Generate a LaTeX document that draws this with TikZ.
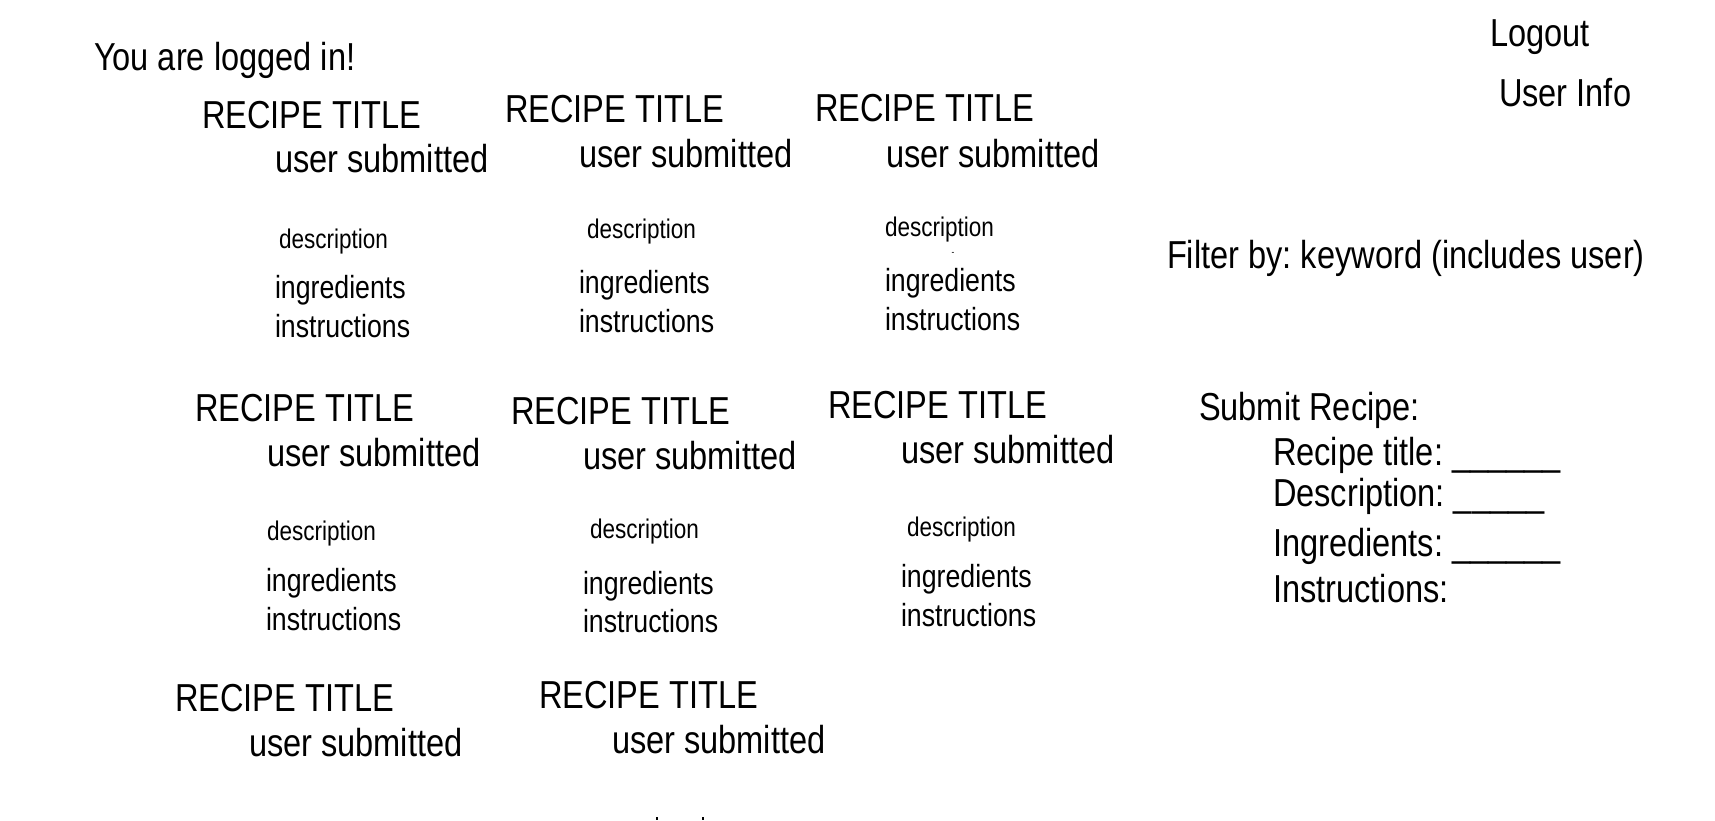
\documentclass[tikz,border=0pt]{standalone}
\usepackage{fontspec}
\setmainfont{Liberation Sans}[FakeStretch=0.835]
\frenchspacing
\begin{document}
\begin{tikzpicture}[x=1pt,y=-1pt,
  txt/.style={anchor=base west, inner sep=0pt, outer sep=0pt},
  big/.style={txt, font=\fontsize{39}{39}\selectfont\frenchspacing},
  mid/.style={txt, font=\fontsize{32}{32}\selectfont},
  small/.style={txt, font=\fontsize{27}{27}\selectfont},
  tiny/.style={anchor=base, inner sep=0pt, font=\fontsize{10}{10}\selectfont}]
\useasboundingbox[fill=white] (0,0) rectangle (1715,820);

\node[big] (logged) at (94,70.7) {You are logged in!};
\node[big] (logout) at (1490,46) {Logout};
\node[big] (userinfo) at (1499,106) {User Info};
\node[big] (filter) at (1167,268.3) {Filter by: keyword (includes user)};

% row 1
\node[big] (t11) at (202,128) {RECIPE TITLE};
\node[big] (u11) at (275,172.7) {user submitted};
\node[small] (d11) at (279,248) {description};
\node[mid] (g11) at (275,298) {ingredients};
\node[mid] (i11) at (275,337) {instructions};

\node[big] (t12) at (505,122.7) {RECIPE TITLE};
\node[big] (u12) at (579,167.7) {user submitted};
\node[small] (d12) at (587,238.3) {description};
\node[mid] (g12) at (579,293) {ingredients};
\node[mid] (i12) at (579,332) {instructions};

\node[big] (t13) at (815,121.7) {RECIPE TITLE};
\node[big] (u13) at (886,167.7) {user submitted};
\node[small] (d13) at (885,236.7) {description};
\node[tiny] (dash13) at (953,255.5) {-};
\node[mid] (g13) at (885,291.7) {ingredients};
\node[mid] (i13) at (885,330.7) {instructions};

% row 2
\node[big] (t21) at (195,421.7) {RECIPE TITLE};
\node[big] (u21) at (267,466.7) {user submitted};
\node[small] (d21) at (267,540.7) {description};
\node[mid] (g21) at (266,591.7) {ingredients};
\node[mid] (i21) at (266,630) {instructions};

\node[big] (t22) at (511,424) {RECIPE TITLE};
\node[big] (u22) at (583,469.3) {user submitted};
\node[small] (d22) at (590,538.3) {description};
\node[mid] (g22) at (583,594) {ingredients};
\node[mid] (i22) at (583,632.7) {instructions};

\node[big] (t23) at (828,418.3) {RECIPE TITLE};
\node[big] (u23) at (901,463.3) {user submitted};
\node[small] (d23) at (907,536.7) {description};
\node[mid] (g23) at (901,587.7) {ingredients};
\node[mid] (i23) at (901,626.7) {instructions};

% row 3
\node[big] (t31) at (175,711.7) {RECIPE TITLE};
\node[big] (u31) at (249,756.7) {user submitted};
\node[big] (t32) at (539,708.3) {RECIPE TITLE};
\node[big] (u32) at (612,753.3) {user submitted};

% submit form
\node[big] (submit) at (1199,420) {Submit Recipe:};
\node[big] (ftitle) at (1273,465) {Recipe title: \_\_\_\_\_\_};
\node[big] (fdesc) at (1273,506.7) {Description: \_\_\_\_\_};
\node[big] (fingr) at (1273,556.7) {Ingredients: \_\_\_\_\_\_};
\node[big] (finstr) at (1273,602.7) {Instructions:};

% cut-off marks at the bottom edge
\fill (656,817) rectangle (658,820);
\fill (702,817) rectangle (704,820);
\end{tikzpicture}
\end{document}
